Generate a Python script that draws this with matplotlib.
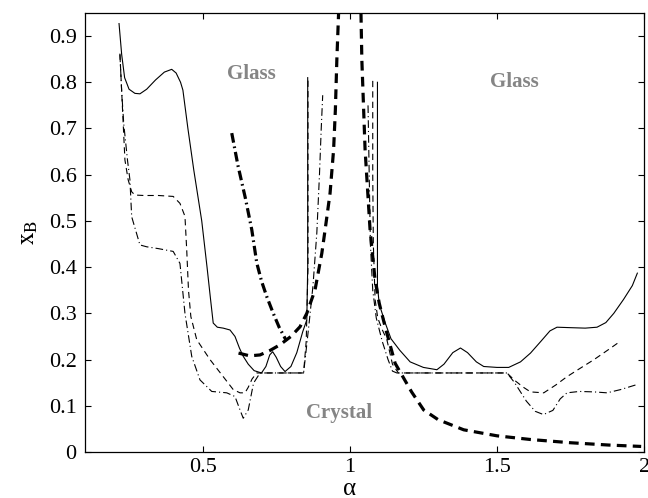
import matplotlib
matplotlib.use("Agg")
import matplotlib.pyplot as plt

plt.rcParams['font.family'] = ['Liberation Serif', 'DejaVu Serif']
plt.rcParams['mathtext.fontset'] = 'stix'
plt.rcParams['lines.scale_dashes'] = False

# ---- data ----
# solid thin curve (left and right branches)
solid_l_a = [0.216, 0.225, 0.235, 0.25, 0.27, 0.287, 0.31, 0.34, 0.37, 0.395, 0.41, 0.425,
             0.433, 0.45, 0.47, 0.497, 0.515, 0.527, 0.536, 0.55, 0.57, 0.593, 0.61, 0.625,
             0.638, 0.655, 0.675, 0.70, 0.715, 0.728, 0.738, 0.75, 0.765, 0.78, 0.80, 0.82,
             0.84, 0.854, 0.857, 0.857]
solid_l_y = [0.927, 0.86, 0.81, 0.785, 0.776, 0.775, 0.785, 0.805, 0.822, 0.828, 0.82, 0.80,
             0.783, 0.70, 0.61, 0.50, 0.40, 0.33, 0.279, 0.27, 0.268, 0.264, 0.25, 0.225,
             0.207, 0.19, 0.176, 0.171, 0.185, 0.21, 0.217, 0.205, 0.185, 0.174, 0.185, 0.215,
             0.26, 0.286, 0.40, 0.81]
solid_r_a = [1.094, 1.094, 1.10, 1.12, 1.14, 1.17, 1.205, 1.25, 1.296, 1.32, 1.35, 1.376,
             1.40, 1.43, 1.455, 1.50, 1.54, 1.58, 1.614, 1.65, 1.68, 1.704, 1.75, 1.80,
             1.84, 1.87, 1.897, 1.93, 1.96, 1.977]
solid_r_y = [0.80, 0.36, 0.32, 0.28, 0.245, 0.22, 0.195, 0.183, 0.178, 0.19, 0.215, 0.225,
             0.215, 0.195, 0.185, 0.183, 0.183, 0.195, 0.214, 0.24, 0.262, 0.270, 0.269, 0.268,
             0.270, 0.28, 0.300, 0.33, 0.36, 0.387]

# dashed thin curve
dash_l_a = [0.219, 0.225, 0.236, 0.247, 0.259, 0.27, 0.30, 0.35, 0.40, 0.423, 0.44, 0.446,
            0.452, 0.46, 0.48, 0.525, 0.57, 0.604, 0.627, 0.644, 0.655, 0.668, 0.684, 0.75,
            0.843, 0.852, 0.858, 0.858]
dash_l_y = [0.862, 0.78, 0.632, 0.589, 0.563, 0.556, 0.555, 0.555, 0.553, 0.538, 0.51, 0.437,
            0.35, 0.293, 0.243, 0.20, 0.163, 0.135, 0.128, 0.128, 0.14, 0.158, 0.171, 0.171,
            0.171, 0.24, 0.40, 0.805]
dash_r_a = [1.078, 1.078, 1.08, 1.086, 1.095, 1.11, 1.126, 1.145, 1.165, 1.30, 1.45, 1.534,
            1.56, 1.59, 1.614, 1.659, 1.70, 1.738, 1.78, 1.83, 1.88, 1.92]
dash_r_y = [0.803, 0.60, 0.45, 0.33, 0.29, 0.265, 0.243, 0.19, 0.171, 0.171, 0.171, 0.171,
            0.155, 0.14, 0.13, 0.128, 0.145, 0.163, 0.18, 0.20, 0.222, 0.24]

# dash-dot thin curve
dd_l_a = [0.219, 0.225, 0.232, 0.245, 0.253, 0.259, 0.287, 0.31, 0.35, 0.40, 0.423, 0.44,
          0.463, 0.491, 0.531, 0.582, 0.61, 0.627, 0.638, 0.655, 0.673, 0.695, 0.75, 0.843,
          0.85, 0.862, 0.875, 0.888, 0.897, 0.903, 0.908]
dd_l_y = [0.86, 0.78, 0.71, 0.63, 0.589, 0.509, 0.448, 0.444, 0.44, 0.434, 0.408, 0.30,
          0.207, 0.156, 0.131, 0.128, 0.12, 0.091, 0.073, 0.091, 0.149, 0.171, 0.171, 0.171,
          0.21, 0.28, 0.36, 0.474, 0.60, 0.70, 0.772]
dd_r_a = [1.062, 1.066, 1.07, 1.078, 1.09, 1.11, 1.13, 1.145, 1.16, 1.30, 1.45, 1.534,
          1.56, 1.60, 1.63, 1.658, 1.69, 1.715, 1.738, 1.78, 1.83, 1.874, 1.92, 1.971]
dd_r_y = [0.75, 0.60, 0.45, 0.35, 0.29, 0.24, 0.20, 0.175, 0.171, 0.171, 0.171, 0.171,
          0.15, 0.11, 0.088, 0.081, 0.09, 0.115, 0.128, 0.131, 0.13, 0.128, 0.135, 0.145]

# thick dash-dot curve
tdd_a = [0.599, 0.62, 0.645, 0.667, 0.684, 0.70, 0.718, 0.74, 0.76, 0.785]
tdd_y = [0.69, 0.62, 0.55, 0.481, 0.409, 0.37, 0.336, 0.30, 0.27, 0.24]

# thick dashed curve (diverging at alpha = 1)
td_l_a = [0.622, 0.66, 0.695, 0.73, 0.763, 0.80, 0.831, 0.854, 0.882, 0.905, 0.916, 0.933,
          0.945, 0.951, 0.956, 0.962]
td_l_y = [0.214, 0.208, 0.21, 0.22, 0.232, 0.25, 0.271, 0.30, 0.351, 0.43, 0.48, 0.56,
          0.654, 0.74, 0.848, 0.95]
td_r_a = [1.038, 1.041, 1.052, 1.069, 1.086, 1.10, 1.12, 1.154, 1.21, 1.251, 1.30, 1.387,
          1.50, 1.614, 1.75, 1.88, 1.99]
td_r_y = [0.95, 0.848, 0.654, 0.48, 0.372, 0.322, 0.271, 0.192, 0.13, 0.091, 0.07, 0.048,
          0.035, 0.027, 0.02, 0.015, 0.012]

x_ticks = [0.5, 1, 1.5, 2]
x_ticklabels = ['0.5', '1', '1.5', '2']
y_ticks = [0, 0.1, 0.2, 0.3, 0.4, 0.5, 0.6, 0.7, 0.8, 0.9]
y_ticklabels = ['0', '0.1', '0.2', '0.3', '0.4', '0.5', '0.6', '0.7', '0.8', '0.9']

labels = ['Glass', 'Glass', 'Crystal']
label_a = [0.665, 1.56, 0.964]
label_y = [0.818, 0.80, 0.085]

# ---- figure ----
fig = plt.figure(figsize=(6.48, 4.98), dpi=100)
ax = fig.add_axes([0.131, 0.0924, 0.863, 0.8816])

thin = 0.8
thick = 2.3
ax.plot(solid_l_a, solid_l_y, color='black', lw=thin, ls='-')
ax.plot(solid_r_a, solid_r_y, color='black', lw=thin, ls='-')
for a, y in [(dash_l_a, dash_l_y), (dash_r_a, dash_r_y)]:
    ax.plot(a, y, color='black', lw=thin, ls=(0, (4.5, 3.0)))
for a, y in [(dd_l_a, dd_l_y), (dd_r_a, dd_r_y)]:
    ax.plot(a, y, color='black', lw=thin, ls=(0, (5.5, 2.2, 0.8, 2.2)))
ax.plot(tdd_a, tdd_y, color='black', lw=thick, ls=(0, (7.0, 2.8, 1.2, 2.8)))
for a, y in [(td_l_a, td_l_y), (td_r_a, td_r_y)]:
    ax.plot(a, y, color='black', lw=thick, ls=(0, (7.0, 4.5)))

for t, a, y in zip(labels, label_a, label_y):
    ax.text(a, y, t, color='#858585', fontweight='bold', fontsize=15,
            ha='center', va='center', family='Liberation Serif')

ax.set_xlim(0.1, 2)
ax.set_ylim(0, 0.95)
ax.set_xticks(x_ticks)
ax.set_xticklabels(x_ticklabels)
ax.set_yticks(y_ticks)
ax.set_yticklabels(y_ticklabels)
ax.tick_params(direction='in', top=True, right=True, length=4, width=0.8,
               labelsize=16, pad=6)
ax.tick_params(axis='x', pad=4)
for s in ax.spines.values():
    s.set_linewidth(0.9)

ax.set_ylabel(r'$\mathrm{x}_\mathrm{B}$', fontsize=18, labelpad=6)
ax.set_xlabel('α', fontsize=18, va='center')
ax.xaxis.set_label_coords(0.474, -0.085)

fig.savefig('out.png', dpi=100)
